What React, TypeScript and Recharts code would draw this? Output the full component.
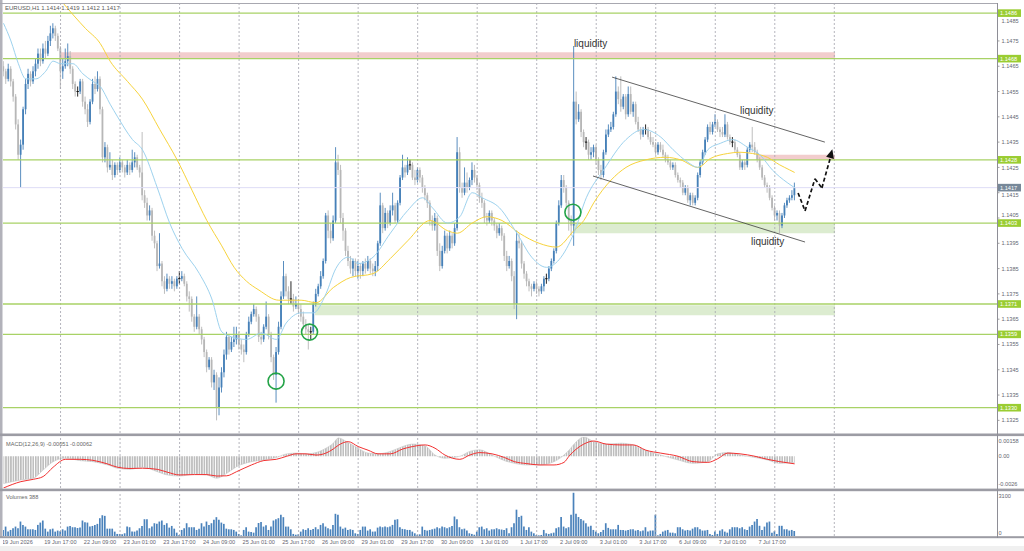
import React from "react";
import { ComposedChart, Bar, Line, Area, XAxis, YAxis, ReferenceLine, ReferenceArea, ReferenceDot } from "recharts";

// EURUSD H1, prices kept as pips above 1.1300 (117 -> 1.1417)
const BASE = 1.13;
const PIP = 0.0001;

const opens = [
  165, 163, 160, 164, 159, 153, 142, 130, 134, 148,
  158, 162, 159, 163, 166, 170, 167, 172, 170, 175,
  178, 180, 177, 172, 163, 165, 167, 169, 164, 158,
  155, 155, 159, 151, 148, 143, 151, 158, 156, 160,
  148, 129, 133, 125, 126, 122, 126, 124, 127, 125,
  123, 126, 124, 127, 129, 125, 123, 114, 111, 106,
  108, 98, 95, 86, 87, 80, 77, 81, 79, 80,
  78, 81, 81, 82, 79, 74, 73, 66, 62, 66,
  61, 57, 52, 46, 49, 40, 43, 30, 38, 44,
  51, 58, 53, 56, 57, 59, 55, 53, 52, 59,
  64, 67, 69, 66, 58, 57, 62, 66, 59, 50,
  43, 52, 62, 74, 82, 76, 73, 73, 70, 71,
  69, 66, 63, 61, 60, 60, 71, 75, 78, 82,
  88, 106, 100, 97, 104, 127, 124, 105, 100, 92,
  88, 85, 88, 84, 86, 84, 87, 85, 88, 85,
  84, 86, 95, 110, 101, 107, 103, 108, 110, 104,
  111, 121, 125, 123, 126, 126, 121, 120, 124, 121,
  117, 114, 111, 104, 102, 105, 92, 86, 92, 98,
  93, 98, 95, 101, 131, 117, 115, 119, 117, 120,
  124, 121, 118, 113, 111, 105, 104, 107, 104, 102,
  99, 101, 98, 90, 86, 88, 82, 71, 96, 95,
  87, 83, 80, 78, 77, 79, 77, 76, 78, 81,
  81, 85, 88, 92, 103, 110, 120, 117, 111, 104,
  102, 151, 144, 147, 139, 135, 135, 130, 131, 133,
  128, 124, 122, 131, 138, 140, 141, 146, 155, 152,
  149, 153, 146, 154, 147, 150, 143, 140, 138, 140,
  140, 137, 135, 134, 131, 134, 132, 130, 128, 127,
  125, 126, 122, 120, 119, 115, 117, 112, 114, 111,
  113, 122, 127, 131, 136, 141, 139, 142, 143, 140,
  139, 138, 142, 137, 135, 135, 132, 130, 125, 127,
  126, 132, 134, 133, 131, 128, 125, 121, 118, 117,
  113, 109, 106, 107, 102, 106, 110, 112, 113, 114,
];

const highs = [
  167, 164, 166, 165, 160, 154, 144, 136, 149, 160,
  164, 163, 165, 168, 172, 172, 174, 175, 177, 181,
  182, 181, 178, 173, 168, 172, 174, 171, 165, 159,
  157, 160, 160, 153, 150, 152, 160, 161, 163, 161,
  149, 135, 134, 131, 128, 127, 127, 129, 128, 126,
  128, 127, 132, 131, 130, 126, 139, 116, 113, 110,
  109, 100, 96, 99, 88, 82, 83, 82, 82, 81,
  82, 84, 84, 83, 80, 76, 74, 67, 74, 67,
  62, 58, 53, 50, 50, 45, 44, 42, 46, 53,
  60, 59, 58, 62, 62, 60, 57, 55, 60, 66,
  68, 71, 70, 67, 60, 63, 72, 67, 60, 51,
  54, 64, 76, 88, 83, 78, 80, 75, 74, 73,
  71, 68, 65, 63, 62, 72, 77, 79, 84, 89,
  107, 108, 103, 106, 133, 130, 126, 107, 101, 94,
  90, 89, 89, 88, 87, 88, 89, 90, 89, 87,
  88, 96, 115, 111, 109, 108, 110, 115, 111, 112,
  122, 130, 126, 129, 128, 127, 124, 125, 125, 122,
  118, 115, 112, 106, 107, 106, 95, 94, 100, 99,
  100, 99, 103, 137, 133, 119, 125, 123, 121, 127,
  126, 122, 119, 115, 112, 107, 108, 108, 105, 103,
  103, 102, 99, 92, 90, 89, 84, 100, 99, 96,
  88, 84, 81, 79, 80, 80, 78, 79, 82, 83,
  86, 89, 93, 104, 112, 122, 122, 118, 112, 106,
  173, 155, 150, 148, 140, 137, 136, 133, 134, 134,
  129, 126, 132, 140, 142, 143, 147, 161, 157, 161,
  154, 154, 157, 157, 151, 151, 145, 141, 141, 142,
  141, 139, 137, 135, 135, 135, 134, 131, 130, 128,
  127, 127, 123, 121, 120, 118, 118, 115, 115, 114,
  123, 128, 132, 137, 142, 143, 143, 146, 144, 141,
  141, 146, 143, 138, 137, 136, 133, 131, 128, 128,
  133, 135, 141, 135, 132, 129, 126, 122, 119, 118,
  114, 110, 108, 108, 107, 111, 113, 114, 116, 119,
];

const lows = [
  161, 158, 159, 157, 151, 140, 128, 117, 132, 146,
  156, 157, 158, 161, 164, 165, 166, 168, 169, 173,
  176, 175, 171, 156, 160, 164, 165, 162, 156, 153,
  153, 154, 149, 146, 141, 142, 150, 154, 155, 146,
  127, 127, 123, 124, 120, 121, 122, 123, 123, 121,
  122, 122, 123, 125, 124, 121, 112, 109, 104, 104,
  96, 93, 84, 85, 78, 75, 76, 77, 77, 76,
  77, 79, 80, 78, 72, 68, 64, 60, 61, 59,
  55, 50, 44, 45, 38, 37, 25, 27, 36, 42,
  49, 51, 52, 54, 55, 53, 51, 48, 51, 58,
  63, 66, 64, 56, 55, 56, 61, 57, 48, 41,
  32, 51, 61, 73, 74, 71, 71, 68, 69, 67,
  64, 61, 59, 53, 57, 59, 70, 74, 77, 81,
  87, 97, 95, 96, 103, 122, 103, 96, 90, 86,
  83, 82, 82, 81, 81, 82, 83, 84, 83, 82,
  82, 84, 94, 99, 100, 101, 102, 106, 103, 103,
  110, 120, 121, 122, 124, 120, 118, 119, 119, 115,
  112, 109, 102, 100, 100, 90, 84, 85, 91, 91,
  92, 93, 94, 100, 115, 113, 114, 115, 116, 118,
  119, 116, 111, 109, 103, 102, 103, 102, 100, 97,
  98, 96, 88, 84, 85, 80, 69, 65, 93, 85,
  81, 78, 76, 74, 76, 75, 74, 75, 76, 79,
  80, 84, 87, 91, 102, 109, 115, 109, 100, 98,
  94, 142, 143, 137, 133, 132, 128, 128, 129, 126,
  122, 120, 121, 130, 137, 139, 140, 145, 150, 147,
  148, 144, 145, 146, 145, 142, 139, 136, 137, 138,
  136, 134, 133, 130, 130, 131, 129, 127, 126, 124,
  124, 121, 119, 117, 114, 114, 111, 110, 110, 110,
  112, 121, 126, 130, 135, 138, 138, 141, 139, 137,
  137, 137, 136, 134, 133, 131, 129, 124, 124, 124,
  125, 131, 131, 130, 127, 124, 120, 117, 115, 112,
  108, 104, 104, 99, 101, 105, 109, 111, 112, 112,
];

const closes = [
  163, 160, 164, 159, 153, 142, 130, 134, 148, 158,
  162, 159, 163, 166, 170, 167, 172, 170, 175, 178,
  180, 177, 172, 163, 165, 167, 169, 164, 158, 155,
  155, 159, 151, 148, 143, 151, 158, 156, 160, 148,
  129, 133, 125, 126, 122, 126, 124, 127, 125, 123,
  126, 124, 127, 129, 125, 123, 114, 111, 106, 108,
  98, 95, 86, 87, 80, 77, 81, 79, 80, 78,
  81, 81, 82, 79, 74, 73, 66, 62, 66, 61,
  57, 52, 46, 49, 40, 43, 30, 38, 44, 51,
  58, 53, 56, 57, 59, 55, 53, 52, 59, 64,
  67, 69, 66, 58, 57, 62, 66, 59, 50, 43,
  52, 62, 74, 82, 76, 73, 73, 70, 71, 69,
  66, 63, 61, 60, 60, 71, 75, 78, 82, 88,
  106, 100, 97, 104, 127, 124, 105, 100, 92, 88,
  85, 88, 84, 86, 84, 87, 85, 88, 85, 84,
  86, 95, 110, 101, 107, 103, 108, 110, 104, 111,
  121, 125, 123, 126, 126, 121, 120, 124, 121, 117,
  114, 111, 104, 102, 105, 92, 86, 92, 98, 93,
  98, 95, 101, 131, 117, 115, 119, 117, 120, 124,
  121, 118, 113, 111, 105, 104, 107, 104, 102, 99,
  101, 98, 90, 86, 88, 82, 71, 96, 95, 87,
  83, 80, 78, 77, 79, 77, 76, 78, 81, 81,
  85, 88, 92, 103, 110, 120, 117, 111, 104, 102,
  151, 144, 147, 139, 135, 135, 130, 131, 133, 128,
  124, 122, 131, 138, 140, 141, 146, 155, 152, 149,
  153, 146, 154, 147, 150, 143, 140, 138, 140, 140,
  137, 135, 134, 131, 134, 132, 130, 128, 127, 125,
  126, 122, 120, 119, 115, 117, 112, 114, 111, 113,
  122, 127, 131, 136, 141, 139, 142, 143, 140, 139,
  138, 142, 137, 135, 135, 132, 130, 125, 127, 126,
  132, 134, 133, 131, 128, 125, 121, 118, 117, 113,
  109, 106, 107, 102, 106, 110, 112, 113, 114, 117,
];

const volumes = [
  470, 730, 340, 470, 600, 730, 600, 1120, 860, 730,
  520, 520, 520, 470, 860, 1040, 1200, 570, 340, 520,
  570, 340, 420, 360, 520, 420, 730, 780, 680, 680,
  620, 650, 1200, 1070, 1040, 730, 780, 860, 940, 1380,
  1610, 1560, 570, 570, 570, 340, 160, 160, 130, 210,
  730, 680, 340, 340, 420, 600, 780, 1300, 1300, 600,
  730, 990, 940, 1120, 1200, 860, 990, 650, 780, 570,
  260, 80, 470, 600, 990, 680, 680, 680, 470, 570,
  990, 730, 1120, 860, 990, 1250, 1460, 1250, 1040, 940,
  570, 520, 520, 470, 340, 160, 50, 470, 680, 340,
  310, 260, 680, 1010, 1090, 730, 830, 470, 730, 1200,
  1300, 1380, 1640, 1460, 730, 730, 520, 160, 100, 130,
  340, 520, 470, 600, 470, 550, 680, 520, 860, 990,
  730, 600, 520, 860, 1720, 1640, 730, 570, 650, 470,
  520, 470, 210, 160, 470, 730, 730, 420, 520, 340,
  340, 650, 730, 680, 730, 680, 730, 860, 1250, 1300,
  680, 550, 520, 470, 470, 340, 210, 100, 130, 730,
  470, 420, 470, 520, 570, 680, 600, 730, 680, 600,
  680, 780, 1510, 1300, 680, 520, 570, 420, 210, 160,
  100, 340, 680, 730, 520, 600, 420, 520, 520, 600,
  520, 500, 470, 600, 210, 680, 990, 2040, 1470, 1570,
  730, 470, 680, 340, 210, 80, 50, 80, 470, 210,
  160, 210, 260, 600, 680, 1470, 730, 600, 680, 1650,
  3350, 1730, 1470, 1310, 1200, 990, 730, 790, 470, 340,
  210, 310, 470, 990, 630, 520, 520, 520, 860, 470,
  470, 420, 470, 520, 520, 420, 470, 370, 420, 680,
  340, 420, 420, 1650, 50, 160, 340, 420, 470, 260,
  260, 210, 680, 680, 520, 420, 470, 420, 570, 680,
  680, 520, 420, 420, 470, 160, 80, 340, 160, 420,
  520, 340, 260, 520, 680, 680, 680, 600, 680, 520,
  470, 730, 860, 1120, 1310, 790, 470, 730, 1050, 1120,
  260, 370, 160, 790, 790, 520, 520, 420, 470, 388,
];

// moving averages (bar index -> pips)
const blueMaIdx = [0, 3, 6, 9, 13, 17, 20, 23, 28, 32, 36, 39, 43, 46, 52, 56, 62, 67, 72, 79, 84, 88, 92, 98, 104, 110, 114, 120, 125, 130, 134, 139, 143, 149, 156, 163, 169, 173, 179, 184, 189, 193, 200, 207, 213, 219, 224, 230, 235, 242, 251, 258, 265, 270, 276, 280, 284, 289, 294, 300, 305, 310, 316, 319];
const blueMaVal = [182, 175, 166, 160, 160, 163, 167, 166, 166, 162, 159, 157, 150, 145, 136, 132, 117, 103, 93, 83, 73, 60, 58, 57, 59.5, 57, 63.5, 67.5, 67.5, 75, 85, 89.5, 87, 89.5, 99, 108, 113, 109, 103, 105.5, 115, 113, 109, 99, 89.5, 85.5, 88.5, 99, 113, 124, 136, 140, 137, 132, 127, 125, 132, 134.5, 136, 133, 130, 124, 119, 117];
const yellowMaIdx = [0, 12, 24, 33, 39, 43, 50, 56, 63, 70, 76, 82, 88, 93, 98, 103, 111, 120, 126, 133, 140, 149, 156, 163, 172, 179, 183, 189, 195, 201, 208, 216, 223, 230, 234, 238, 245, 251, 259, 267, 273, 280, 285, 292, 297, 302, 308, 313, 317, 319];
const yellowMaVal = [220, 205, 190, 180, 174, 167, 159, 152, 140, 128, 116, 104, 94, 85.5, 80, 76.5, 72.5, 72.5, 71.5, 77.5, 81.5, 83, 89, 96, 104, 100, 99, 103, 105.5, 104, 99, 95, 93.5, 100, 104, 111, 120, 125, 128, 129, 128, 125, 128.5, 130.5, 131, 130.5, 129, 126, 124, 123];

// MACD(12,26,9)
const macdIdx = [0, 7, 12, 16, 20, 25, 31, 36, 42, 46, 51, 56, 62, 66, 71, 77, 82, 86, 90, 94, 100, 105, 110, 114, 118, 122, 126, 130, 133, 135, 139, 143, 147, 151, 156, 161, 165, 170, 174, 178, 184, 188, 192, 197, 202, 206, 211, 216, 222, 226, 228, 231, 234, 238, 243, 249, 254, 259, 265, 272, 278, 284, 288, 292, 297, 303, 308, 313, 319];
const macdHist = [-0.00224, -0.00194, -0.0018, -0.00112, -0.00044, -0.00016, -0.00036, -0.00044, -0.00071, -0.00098, -0.00107, -0.0009, -0.00126, -0.00153, -0.00162, -0.00148, -0.00153, -0.0018, -0.0014, -0.00085, -0.00044, -0.0003, -0.0001, 0.00019, 0.00026, 0.00019, 0.0003, 0.00066, 0.00107, 0.0015, 0.00112, 0.00066, 0.00026, 0.0002, 0.0004, 0.0008, 0.001, 0.00085, 0.0001, -0.00016, 0, 0.0004, 0.00053, 0.0001, -0.00036, -0.00058, -0.00071, -0.00071, -0.00044, 0.0001, 0.0005, 0.0012, 0.00158, 0.0012, 0.001, 0.00107, 0.00093, 0.00047, 0.0001, -0.0003, -0.00058, -0.00044, 0.0002, 0.0003, 0.0001, -0.0001, -0.0003, -0.00058, -0.00051];
const macdSignal = [-0.0026, -0.00208, -0.00189, -0.00166, -0.0009, -0.00025, -0.00025, -0.00033, -0.00063, -0.0009, -0.001, -0.00098, -0.00107, -0.0013, -0.00153, -0.0015, -0.0015, -0.00162, -0.0016, -0.00126, -0.00071, -0.00035, -0.00025, -0.00001, 0.0002, 0.0002, 0.0001, 0.00026, 0.0006, 0.0009, 0.0012, 0.0008, 0.0005, 0.0002, 0.0002, 0.0006, 0.0008, 0.00093, 0.00066, 0.0001, -0.00025, 0.0001, 0.0003, 0.0002, -0.0001, -0.00044, -0.0006, -0.00071, -0.00071, -0.0005, 0, 0.0006, 0.001, 0.00125, 0.001, 0.00093, 0.00093, 0.0005, 0.00026, 0, -0.00044, -0.0005, -0.0002, 0.00026, 0.0002, 0, -0.00025, -0.00044, -0.00062];

const timeLabelIdx = [0, 17, 33, 49, 65, 81, 97, 113, 129, 145, 161, 177, 193, 209, 225, 241, 257, 273, 289, 305];
const timeLabels = ["19 Jun 2026", "19 Jun 17:00", "22 Jun 09:00", "23 Jun 01:00", "23 Jun 17:00", "24 Jun 09:00", "25 Jun 01:00", "25 Jun 17:00", "26 Jun 09:00", "29 Jun 01:00", "29 Jun 17:00", "30 Jun 09:00", "1 Jul 01:00", "1 Jul 17:00", "2 Jul 09:00", "3 Jul 01:00", "3 Jul 17:00", "6 Jul 09:00", "7 Jul 01:00", "7 Jul 17:00"];

const dayGridIdx = [23, 47, 71, 95, 119, 143, 167, 191, 215, 239, 263, 287, 311, 335];
const priceTicks = [25, 35, 45, 55, 65, 75, 85, 95, 105, 115, 125, 135, 145, 155, 165, 175, 185];
const levelPrices = [186, 168, 128, 103, 71, 59, 30];

// drawn objects: [from bar, to bar, low pips, high pips]
const pinkZones = [[22.8, 335.3, 168, 170.5], [304.2, 335.3, 128, 130]];
const greenZones = [[229.8, 335.3, 99, 103], [125.6, 335.3, 66.6, 70.5]];
const channelTop = [[245.4, 160.7], [331.2, 135]];
const channelBottom = [[237.7, 121.6], [323.2, 95.5]];
const circleIdx = [109.9, 123.4, 229.6];
const circleVal = [40.5, 59.9, 107.3];
const noteIdx = [230, 297, 301.4];
const noteVal = [172.6, 146.1, 94.3];
const noteText = ["liquidity", "liquidity", "liquidity"];
const arrowIdx = [320.4, 323.2, 327.2, 330, 333.6];
const arrowVal = [114.9, 107.8, 120.5, 116.9, 129.5];
const arrowTip = [334.2, 132.2];

const macdLabels: Record<string, string> = { "0.00158": "0.00158", "0": "0.00", "-0.0026": "-0.0026" };

const FONT = "'Liberation Sans', Arial, sans-serif";
const AXIS_TXT = "#666672";
const GRID = "#a2a2ac";
const LEVEL = "#a8d266";
const X_DOMAIN: [number, number] = [-0.2, 400.6];
const Y_DOMAIN: [number, number] = [20, 190];
const MAIN_H = 430;
const CHART_W = 1021;
const AXIS_W = 27;

const fmt = (p: number) => (BASE + p * PIP).toFixed(4);
const last = closes.length - 1;
const lastPrice = closes[last];
const badgePrices = [...levelPrices, lastPrice];
const pxPerPip = MAIN_H / (Y_DOMAIN[1] - Y_DOMAIN[0]);

const blueAt = new Map(blueMaIdx.map((k, j) => [k, blueMaVal[j]]));
const yellowAt = new Map(yellowMaIdx.map((k, j) => [k, yellowMaVal[j]]));

const rows = closes.map((c, i) => ({
  i,
  o: opens[i],
  h: highs[i],
  l: lows[i],
  c,
  v: volumes[i],
  blue: blueAt.get(i),
  yellow: yellowAt.get(i),
}));

const macdRows = macdIdx.map((i, j) => ({ i, hist: macdHist[j], sig: macdSignal[j] }));

const Candle = (props: any) => {
  const { x, y, width, height, payload } = props;
  if (!payload) return null;
  const { o, h, l, c } = payload;
  const cx = x + width / 2;
  const top = Math.min(y, y + height);
  const bottom = Math.max(y, y + height);
  const py = (v: number) => top + ((h - v) / (h - l)) * (bottom - top);
  const flat = o === c;
  const color = flat ? "#111" : c > o ? "#4680b8" : "#b7b7b7";
  const bTop = py(Math.max(o, c));
  const bBot = py(Math.min(o, c));
  return (
    <g>
      <line x1={cx} x2={cx} y1={top} y2={bottom} stroke={color} strokeWidth={0.9} />
      {flat ? (
        <line x1={cx - 1.2} x2={cx + 1.2} y1={bTop} y2={bTop} stroke={color} strokeWidth={1} />
      ) : (
        <rect x={cx - 0.9} y={bTop} width={1.8} height={Math.max(bBot - bTop, 0.8)} fill={color} />
      )}
    </g>
  );
};

const PriceTick = (props: any) => {
  const { x, y, payload } = props;
  const v = payload.value;
  if (badgePrices.includes(v)) {
    return (
      <g>
        <rect x={x + 1} y={y - 3.8} width={23} height={7.6} fill={v === lastPrice ? "#778899" : "#9acd32"} />
        <text x={x + 3} y={y + 2} fontSize={5.6} fontFamily={FONT} fill="#fff">{fmt(v)}</text>
      </g>
    );
  }
  // a scale label that sits under a price badge is pushed just clear of it
  let ty = y;
  for (const b of badgePrices) {
    const by = y - (b - v) * pxPerPip;
    if (Math.abs(by - ty) < 7.8) ty = by + (ty >= by ? 7.8 : -7.8);
  }
  return (
    <g>
      <line x1={x + 0.5} x2={x + 2.5} y1={y} y2={y} stroke="#888" strokeWidth={0.8} />
      <text x={x + 4.5} y={ty + 2} fontSize={5.6} fontFamily={FONT} fill={AXIS_TXT}>{fmt(v)}</text>
    </g>
  );
};

const MacdTick = (props: any) => {
  const { x, y, payload } = props;
  const v = payload.value;
  const dy = v > 0 ? 5.5 : v < 0 ? -2 : 2;
  return (
    <text x={x + 1.5} y={y + dy} fontSize={5.6} fontFamily={FONT} fill={AXIS_TXT}>{macdLabels[String(v)]}</text>
  );
};

const VolTick = (props: any) => {
  const { x, y, payload } = props;
  const v = payload.value;
  return (
    <text x={x + 1.5} y={y + (v > 0 ? 1.5 : -1)} fontSize={5.6} fontFamily={FONT} fill={AXIS_TXT}>{v}</text>
  );
};

const TimeTick = (props: any) => {
  const { x, y, payload } = props;
  const k = timeLabelIdx.indexOf(payload.value);
  return (
    <text x={x - 1.5} y={y + 8} fontSize={5.6} fontFamily={FONT} fill={AXIS_TXT} textAnchor="start">{timeLabels[k]}</text>
  );
};

const NoteShape = (text: string) => (p: any) => (
  <text x={p.cx} y={p.cy} fontSize={10} fontFamily={FONT} fill="#333">{text}</text>
);

const ArrowHead = (p: any) => {
  const { cx, cy } = p;
  return <polygon points={`${cx},${cy} ${cx + 1.6},${cy + 9.8} ${cx - 6.2},${cy + 7.6}`} fill="#111" />;
};

const gridLines = () =>
  dayGridIdx.map((g) => (
    <ReferenceLine key={`g${g}`} x={g} stroke={GRID} strokeDasharray="2 2" strokeWidth={0.8} />
  ));

export default function App() {
  return (
    <div style={{ position: "absolute", left: 0, top: 0, width: 1024, height: 551, background: "#fff", overflow: "hidden" }}>
      {/* price window */}
      <div style={{ position: "absolute", left: 3, top: 3 }}>
        <ComposedChart width={CHART_W} height={MAIN_H} data={rows} margin={{ top: 0, right: 0, bottom: 0, left: 0 }}>
          <XAxis dataKey="i" type="number" domain={X_DOMAIN} hide allowDataOverflow />
          <YAxis
            orientation="right"
            width={AXIS_W}
            type="number"
            domain={Y_DOMAIN}
            allowDataOverflow
            ticks={[...priceTicks, ...badgePrices]}
            interval={0}
            axisLine={false}
            tickLine={false}
            tickSize={0}
            tickMargin={0}
            tick={<PriceTick />}
          />
          {pinkZones.map((z, k) => (
            <ReferenceArea key={`p${k}`} x1={z[0]} x2={z[1]} y1={z[2]} y2={z[3]} fill="#f0c4c4" fillOpacity={0.85} stroke="none" />
          ))}
          {greenZones.map((z, k) => (
            <ReferenceArea key={`z${k}`} x1={z[0]} x2={z[1]} y1={z[2]} y2={z[3]} fill="#dcecd0" fillOpacity={1} stroke="none" />
          ))}
          {gridLines()}
          {levelPrices.map((p) => (
            <ReferenceLine key={`l${p}`} y={p} stroke={LEVEL} strokeWidth={1.3} />
          ))}
          <ReferenceLine y={lastPrice} stroke="#dedcf6" strokeWidth={1} />
          <Line dataKey="yellow" type="monotone" stroke="#f7d33c" strokeWidth={1} dot={false} connectNulls isAnimationActive={false} />
          <Line dataKey="blue" type="monotone" stroke="#9dd2ee" strokeWidth={1} dot={false} connectNulls isAnimationActive={false} />
          <Bar dataKey={(d: any) => [d.l, d.h]} barSize={2} shape={<Candle />} isAnimationActive={false} />
          <ReferenceLine segment={[{ x: channelTop[0][0], y: channelTop[0][1] }, { x: channelTop[1][0], y: channelTop[1][1] }]} stroke="#3c3c3c" strokeWidth={0.8} />
          <ReferenceLine segment={[{ x: channelBottom[0][0], y: channelBottom[0][1] }, { x: channelBottom[1][0], y: channelBottom[1][1] }]} stroke="#3c3c3c" strokeWidth={0.8} />
          {circleIdx.map((cx, k) => (
            <ReferenceDot key={`c${k}`} x={cx} y={circleVal[k]} r={8} fill="none" stroke="#23a347" strokeWidth={1.6} />
          ))}
          {noteIdx.map((nx, k) => (
            <ReferenceDot key={`n${k}`} x={nx} y={noteVal[k]} r={0} shape={NoteShape(noteText[k])} />
          ))}
          {arrowIdx.slice(1).map((ax, k) => (
            <ReferenceLine
              key={`a${k}`}
              segment={[{ x: arrowIdx[k], y: arrowVal[k] }, { x: ax, y: arrowVal[k + 1] }]}
              stroke="#111"
              strokeWidth={1.7}
              strokeDasharray="4 2.5"
            />
          ))}
          <ReferenceDot x={arrowTip[0]} y={arrowTip[1]} r={0} shape={ArrowHead} />
        </ComposedChart>
      </div>

      {/* MACD window */}
      <div style={{ position: "absolute", left: 3, top: 437 }}>
        <ComposedChart width={CHART_W} height={51} data={macdRows} margin={{ top: 0, right: 0, bottom: 0, left: 0 }}>
          <defs>
            <pattern id="macdStripes" patternUnits="userSpaceOnUse" x={-0.3} y={0} width={2.48} height={6}>
              <rect x={0} y={0} width={1.6} height={6} fill="#bcbcbc" />
            </pattern>
          </defs>
          <XAxis dataKey="i" type="number" domain={X_DOMAIN} hide allowDataOverflow />
          <YAxis
            orientation="right"
            width={AXIS_W}
            type="number"
            domain={[-0.0026, 0.00158]}
            allowDataOverflow
            ticks={[0.00158, 0, -0.0026]}
            interval={0}
            axisLine={false}
            tickLine={false}
            tickSize={0}
            tickMargin={0}
            tick={<MacdTick />}
          />
          {gridLines()}
          <Area dataKey="hist" type="monotone" baseValue={0} fill="url(#macdStripes)" fillOpacity={1} stroke="#c6c6c6" strokeWidth={0.6} isAnimationActive={false} />
          <Line dataKey="sig" type="monotone" stroke="#f23030" strokeWidth={1} dot={false} isAnimationActive={false} />
        </ComposedChart>
      </div>

      {/* Volumes window */}
      <div style={{ position: "absolute", left: 3, top: 492 }}>
        <ComposedChart width={CHART_W} height={56} data={rows} margin={{ top: 0, right: 0, bottom: 0, left: 0 }}>
          <XAxis
            dataKey="i"
            type="number"
            domain={X_DOMAIN}
            allowDataOverflow
            height={12}
            ticks={timeLabelIdx}
            interval={0}
            axisLine={false}
            tickLine={false}
            tickSize={0}
            tickMargin={0}
            tick={<TimeTick />}
          />
          <YAxis
            orientation="right"
            width={AXIS_W}
            type="number"
            domain={[0, 3410]}
            allowDataOverflow
            ticks={[3100, 0]}
            interval={0}
            axisLine={false}
            tickLine={false}
            tickSize={0}
            tickMargin={0}
            tick={<VolTick />}
          />
          {gridLines()}
          <Bar dataKey="v" barSize={1.7} fill="#4a82bb" isAnimationActive={false} />
        </ComposedChart>
      </div>

      {/* window frames and titles */}
      <svg width={1024} height={551} style={{ position: "absolute", left: 0, top: 0, pointerEvents: "none" }}>
        <rect x={0} y={0} width={2.5} height={538} fill="#b2b2ba" />
        <line x1={0} x2={997} y1={3.5} y2={3.5} stroke="#a8a8b0" strokeWidth={1} />
        <rect x={0} y={433.5} width={1024} height={2.6} fill="#9c9ca4" />
        <rect x={0} y={488.6} width={1024} height={2.6} fill="#9c9ca4" />
        <rect x={0} y={536.2} width={1024} height={2} fill="#9c9ca4" />
        <line x1={997.5} x2={997.5} y1={3} y2={538} stroke="#8e8e96" strokeWidth={1} />
        <rect x={0} y={546} width={1024} height={5} fill="#f0f0f0" />
        <text x={5} y={9.5} fontSize={6} fontFamily={FONT} fill="#5a5a5a">
          {`EURUSD,H1  ${fmt(opens[last])} ${fmt(highs[last])} ${fmt(lows[last])} ${fmt(closes[last])}`}
        </text>
        <text x={6} y={445.5} fontSize={5.6} fontFamily={FONT} fill="#666">
          {`MACD(12,26,9) ${macdHist[macdHist.length - 1].toFixed(5)} ${macdSignal[macdSignal.length - 1].toFixed(5)}`}
        </text>
        <text x={6} y={498.5} fontSize={5.6} fontFamily={FONT} fill="#666">
          {`Volumes ${volumes[last]}`}
        </text>
      </svg>
    </div>
  );
}
